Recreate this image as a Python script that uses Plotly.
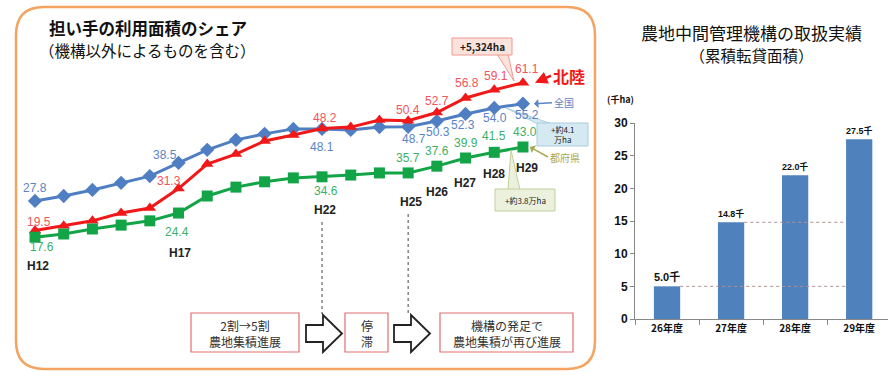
import plotly.graph_objects as go

# ---------------- data ----------------
years = ["H12", "H13", "H14", "H15", "H16", "H17", "H18", "H19", "H20",
         "H21", "H22", "H23", "H24", "H25", "H26", "H27", "H28", "H29"]
national = [27.8, 29.2, 30.9, 32.9, 34.8, 38.5, 42.2, 45.0, 46.7,
            48.1, 48.1, 47.8, 48.6, 48.7, 50.3, 52.3, 54.0, 55.2]
hokuriku = [19.5, 20.8, 22.2, 24.4, 25.8, 31.3, 38.2, 41.0, 44.7,
            46.4, 48.2, 48.6, 50.6, 50.4, 52.7, 56.8, 59.1, 61.1]
prefectures = [17.6, 18.5, 19.9, 21.0, 22.2, 24.4, 29.2, 31.7, 33.2,
               34.3, 34.6, 35.1, 35.7, 35.7, 37.6, 39.9, 41.5, 43.0]
labeled_years = ["H12", "H17", "H22", "H25", "H26", "H27", "H28", "H29"]

bar_cats = ["26年度", "27年度", "28年度", "29年度"]
bar_vals = [5.0, 14.8, 22.0, 27.5]
bar_ticks = [0, 5, 10, 15, 20, 25, 30]

# ---------------- helpers (pixel -> paper) ----------------
W, H = 888, 372
def px(x):
    return x / W
def py(y):
    return 1 - y / H

FONT = "Liberation Sans, Noto Sans CJK JP, sans-serif"
JP = "Noto Sans CJK JP, sans-serif"

C_BLUE = "#4F7FC2"
C_RED = "#F01818"
C_GREEN = "#12A447"
L_BLUE = "#5A84C6"
L_RED = "#F2545A"
L_GREEN = "#3DB066"

fig = go.Figure()

fig.add_trace(go.Scatter(
    x=years, y=national, mode="lines+markers", xaxis="x", yaxis="y",
    line=dict(color=C_BLUE, width=3),
    marker=dict(symbol="diamond", size=11, color=C_BLUE),
    showlegend=False, hoverinfo="skip"))
fig.add_trace(go.Scatter(
    x=years, y=hokuriku, mode="lines+markers", xaxis="x", yaxis="y",
    line=dict(color=C_RED, width=3),
    marker=dict(symbol="triangle-up", size=11, color=C_RED),
    showlegend=False, hoverinfo="skip"))
fig.add_trace(go.Scatter(
    x=years, y=prefectures, mode="lines+markers", xaxis="x", yaxis="y",
    line=dict(color=C_GREEN, width=3),
    marker=dict(symbol="square", size=11, color=C_GREEN),
    showlegend=False, hoverinfo="skip"))

fig.add_trace(go.Bar(
    x=bar_cats, y=bar_vals, xaxis="x2", yaxis="y2", width=0.41,
    marker=dict(color="#4F81BD", line=dict(width=0)),
    texttemplate="%{y:.1f}千", textposition="outside",
    textfont=dict(family=FONT, size=12, color="#111", weight="bold"),
    cliponaxis=False, showlegend=False, hoverinfo="skip"))

ann = []
shapes = []

def note(x, y, text, size, color="#111", weight="normal"):
    ann.append(dict(x=px(x), y=py(y), xref="paper", yref="paper", text=text, showarrow=False,
                    xanchor="center", yanchor="middle",
                    font=dict(family=JP, size=size, color=color, weight=weight)))

# data labels (offsets in pixels)
blue_off = [(0, 13), (-14, 8), (0, -18), (6, -12), (1, -11), (-3, -11), (1, -10), (4, -11)]
red_off = [(4, 8), (-10, 8), (3, 11), (0, 11), (0, 12), (1, 15), (2, 14), (4, 14)]
green_off = [(7, -10), (-2, -19), (4, -14), (0, 15), (0, 15), (0, 15), (0, 16), (2, 15)]
for series, offs, col in ((national, blue_off, L_BLUE), (hokuriku, red_off, L_RED),
                          (prefectures, green_off, L_GREEN)):
    for yr, (dx, dy) in zip(labeled_years, offs):
        v = series[years.index(yr)]
        ann.append(dict(x=yr, y=v, xref="x", yref="y", text=f"{v:.1f}", showarrow=False,
                        xanchor="center", yanchor="middle",
                        xshift=dx, yshift=dy, font=dict(family=FONT, size=12, color=col)))

# year labels
ylab_pos = {"H12": (38, 266), "H17": (180, 253), "H22": (325, 210), "H25": (411, 202),
            "H26": (437, 192), "H27": (465, 183), "H28": (494, 174), "H29": (527, 168)}
for yr in labeled_years:
    xx, yy = ylab_pos[yr]
    ann.append(dict(x=yr, y=py(yy), xref="x", yref="paper", text=yr, showarrow=False,
                    xanchor="center", yanchor="middle",
                    xshift=xx - (35 + 28.7 * years.index(yr)),
                    font=dict(family=FONT, size=12, color="#222", weight="bold")))

# titles
note(148, 28, "担い手の利用面積のシェア", 16.5, weight="bold")
note(147, 50, "（機構以外によるものを含む）", 15.5)
note(751, 43, "農地中間管理機構の取扱実績<br><span style='font-size:15.5px'>（累積転貸面積）</span>", 17)
note(620, 99, "(千ha)", 9, weight="bold")

# series name arrows
ann.append(dict(x="H29", y=hokuriku[-1], xref="x", yref="y", xshift=12, ax=16, ay=-7,
                text="<b>北陸</b>", showarrow=True, arrowhead=2, arrowsize=1, arrowwidth=2.5,
                arrowcolor=C_RED, xanchor="left", yanchor="middle",
                font=dict(family=JP, size=16, color=C_RED)))
ann.append(dict(x="H29", y=national[-1], xref="x", yref="y", xshift=11, ay=-1, ax=18,
                text="全国", showarrow=True, arrowhead=1, arrowsize=1, arrowwidth=1.5,
                arrowcolor=L_BLUE, xanchor="left", yanchor="middle",
                font=dict(family=JP, size=10, color=L_BLUE)))
ann.append(dict(x="H29", y=prefectures[-1], xref="x", yref="y", xshift=7, ax=18, ay=10,
                text="都府県", showarrow=True, arrowhead=1, arrowsize=1, arrowwidth=1.5,
                arrowcolor="#A8A856", xanchor="left", yanchor="middle",
                font=dict(family=JP, size=10, color="#A8A856")))

# callout boxes
def callout(x0, y0, x1, y1, wedge, fill, line, text, size):
    shapes.append(dict(type="path", xref="paper", yref="paper",
                       path="M {} {} L {} {} L {} {} Z".format(*[c for p in wedge for c in (px(p[0]), py(p[1]))]),
                       fillcolor=fill, line=dict(color=line, width=1)))
    shapes.append(dict(type="rect", xref="paper", yref="paper", x0=px(x0), x1=px(x1),
                       y0=py(y1), y1=py(y0), fillcolor=fill, line=dict(color=line, width=1)))
    note((x0 + x1) / 2, (y0 + y1) / 2, text, size, "#222")

callout(452, 38, 512, 55, [(497, 54), (508, 54), (514, 81)], "#FBE2DC", "#EE9A90",
        "<b>+5,324ha</b>", 10)
callout(537, 123, 588, 146, [(538, 124), (552, 124), (506, 108)], "#D5E9F3", "#A9CDE0",
        "+約4.1<br>万ha", 8)
callout(495, 189, 555, 211, [(508, 190), (520, 190), (511, 150)], "#EBF1DD", "#BFD19A",
        "+約3.8万ha", 8)

# orange rounded frame
r = 28
L, T, R, B = 16, 7, 595, 369
frame = (f"M {px(L + r)} {py(T)} L {px(R - r)} {py(T)} Q {px(R)} {py(T)} {px(R)} {py(T + r)} "
         f"L {px(R)} {py(B - r)} Q {px(R)} {py(B)} {px(R - r)} {py(B)} "
         f"L {px(L + r)} {py(B)} Q {px(L)} {py(B)} {px(L)} {py(B - r)} "
         f"L {px(L)} {py(T + r)} Q {px(L)} {py(T)} {px(L + r)} {py(T)} Z")
shapes.append(dict(type="path", xref="paper", yref="paper", path=frame,
                   line=dict(color="#F4A460", width=2.5), layer="below"))

# dotted vertical guides
for yr, top in (("H22", 222), ("H25", 214)):
    shapes.append(dict(type="line", xref="x", yref="paper", x0=yr, x1=yr, y0=py(top), y1=py(314),
                       line=dict(color="#444", width=1, dash="dot")))

# bottom boxes
for (x0, x1, text) in ((191, 299, "2割→5割<br>農地集積進展"), (345, 388, "停<br>滞"),
                       (440, 573, "機構の発足で<br>農地集積が再び進展")):
    shapes.append(dict(type="rect", xref="paper", yref="paper", x0=px(x0), x1=px(x1),
                       y0=py(352), y1=py(313), fillcolor="white", line=dict(color="#E07070", width=1.2)))
    note((x0 + x1) / 2, 333, text, 12, "#333")

# block arrows
for x0 in (306, 394):
    pts = [(x0, 325), (x0 + 17, 325), (x0 + 17, 315), (x0 + 36, 333.5), (x0 + 17, 352),
           (x0 + 17, 342), (x0, 342)]
    path = "M " + " L ".join(f"{px(a)} {py(b)}" for a, b in pts) + " Z"
    shapes.append(dict(type="path", xref="paper", yref="paper", path=path, fillcolor="white",
                       line=dict(color="#222", width=1.8)))

# bar dotted reference lines
for i in (0, 1):
    shapes.append(dict(type="line", xref="x2", yref="y2", x0=i + 0.205, x1=3 - 0.205,
                       y0=bar_vals[i], y1=bar_vals[i],
                       line=dict(color="#B09090", width=1, dash="dot")))

fig.update_layout(
    width=W, height=H, margin=dict(l=0, r=0, t=0, b=0, autoexpand=False),
    paper_bgcolor="white", plot_bgcolor="rgba(0,0,0,0)",
    xaxis=dict(domain=[px(10), px(595)], range=[-0.871, 19.51], visible=False, automargin=False,
               type="category", categoryorder="array", categoryarray=years),
    yaxis=dict(domain=[py(300), py(60)], range=[-0.09, 67.5], visible=False, automargin=False),
    xaxis2=dict(domain=[px(635), 1], range=[-0.5, 3.45], type="category", anchor="y2",
                automargin=False,
                showline=True, linecolor="#888", linewidth=1, ticks="outside", tickson="boundaries",
                ticklen=5, tickcolor="#888", showgrid=False,
                tickfont=dict(family=JP, size=10, color="#111", weight="bold")),
    yaxis2=dict(domain=[py(319), py(123)], range=[0, 30], anchor="x2", tickvals=bar_ticks,
                automargin=False,
                showline=True, linecolor="#888", linewidth=1, ticks="outside", ticklen=4,
                tickcolor="#888", showgrid=False, zeroline=False,
                tickfont=dict(family=FONT, size=12, color="#111", weight="bold")),
    annotations=ann, shapes=shapes,
)

fig.write_html("out.html")
